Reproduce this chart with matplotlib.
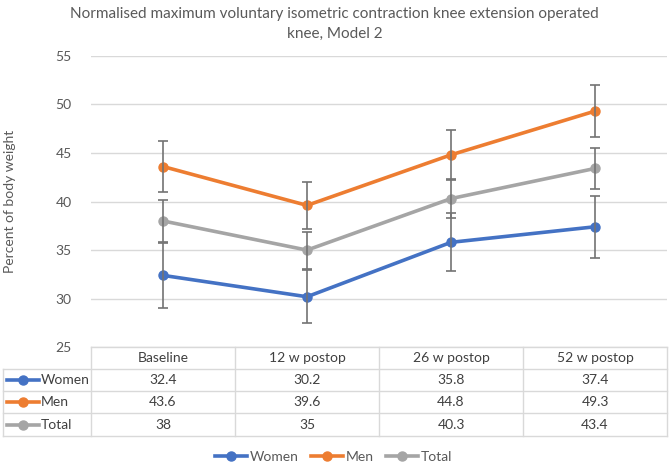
import matplotlib
matplotlib.use("Agg")
import matplotlib.pyplot as plt
from matplotlib.lines import Line2D
import matplotlib.transforms as mtransforms

plt.rcParams['font.family'] = ['Lato', 'DejaVu Sans']

categories = ["Baseline", "12 w postop", "26 w postop", "52 w postop"]
series_names = ["Women", "Men", "Total"]
women = [32.4, 30.2, 35.8, 37.4]
men = [43.6, 39.6, 44.8, 49.3]
total = [38, 35, 40.3, 43.4]
women_err = [3.35, 2.75, 3.0, 3.2]
men_err = [2.6, 2.4, 2.6, 2.65]
total_err = [2.2, 1.9, 2.0, 2.15]
table_labels = [["32.4", "30.2", "35.8", "37.4"],
                ["43.6", "39.6", "44.8", "49.3"],
                ["38", "35", "40.3", "43.4"]]
colors = ["#4472C4", "#ED7D31", "#A5A5A5"]
yticks = [25, 30, 35, 40, 45, 50, 55]

W, H = 669, 462
fig = plt.figure(figsize=(W / 100, H / 100), dpi=100)

def fy(py):
    return 1 - py / H

def fx(px):
    return px / W

ax_left, ax_right, ax_top, ax_bot = 91, 667, 55.7, 347.3
ax = fig.add_axes([fx(ax_left), fy(ax_bot), fx(ax_right) - fx(ax_left), fy(ax_top) - fy(ax_bot)])
ax.set_xlim(-0.5, 3.5)
ax.set_ylim(25, 55)
ax.set_yticks(yticks)
ax.set_xticks([])
for s in ax.spines.values():
    s.set_visible(False)
ax.yaxis.grid(True, color="#D9D9D9", linewidth=1.0)
ax.set_axisbelow(True)
ax.tick_params(axis='y', length=0, pad=14, labelsize=10, labelcolor="#595959")

x = list(range(len(categories)))
data = [women, men, total]
errs = [women_err, men_err, total_err]
for vals, err, c in zip(data, errs, colors):
    ax.plot(x, vals, color=c, linewidth=2.6, marker='o', markersize=6.5, zorder=3)
for vals, err, c in zip(data, errs, colors):
    ax.errorbar(x, vals, yerr=err, fmt='none', ecolor="#737373", elinewidth=1.2,
                capsize=3.5, capthick=1.2, zorder=4)

# Title
fig.text(0.5, fy(14), "Normalised maximum voluntary isometric contraction knee extension operated",
         ha='center', va='center', fontsize=11, color="#595959")
fig.text(0.5, fy(34), "knee, Model 2", ha='center', va='center', fontsize=11, color="#595959")

# Y label
fig.text(fx(10), fy(201), "Percent of body weight", rotation=90, ha='center', va='center',
         fontsize=10, color="#595959")

# Data table
lc = "#D9D9D9"
trans = mtransforms.blended_transform_factory(ax.transData, fig.transFigure)
row_lines = [347.3, 369, 391.3, 413.3, 436]
fig.add_artist(Line2D([fx(ax_left), fx(ax_right)], [fy(row_lines[0])] * 2, color=lc, lw=1.0))
for ry in row_lines[1:]:
    fig.add_artist(Line2D([fx(3), fx(ax_right)], [fy(ry)] * 2, color=lc, lw=1.0))
for i in range(len(categories) + 1):
    fig.add_artist(Line2D([i - 0.5, i - 0.5], [fy(row_lines[0]), fy(row_lines[-1])],
                          color=lc, lw=1.0, transform=trans))
fig.add_artist(Line2D([fx(3), fx(3)], [fy(row_lines[1]), fy(row_lines[-1])], color=lc, lw=1.0))

tc = "#404040"
for i, cat in enumerate(categories):
    fig.text(i, fy((row_lines[0] + row_lines[1]) / 2), cat, transform=trans,
             ha='center', va='center', fontsize=10, color=tc)
for r, name in enumerate(series_names):
    yc = fy((row_lines[r + 1] + row_lines[r + 2]) / 2)
    for i in range(len(categories)):
        fig.text(i, yc, table_labels[r][i], transform=trans, ha='center', va='center',
                 fontsize=10, color=tc)
    fig.add_artist(Line2D([fx(7), fx(39)], [yc, yc], color=colors[r], lw=2.6))
    fig.add_artist(Line2D([fx(23)], [yc], color=colors[r], marker='o', markersize=6.5, lw=0))
    fig.text(fx(41), yc, name, ha='left', va='center', fontsize=10, color=tc)

# Legend
handles = [Line2D([], [], color=c, lw=2.6, marker='o', markersize=6.5) for c in colors]
fig.legend(handles, series_names, loc='center', bbox_to_anchor=(0.499, fy(457)), ncol=3,
           frameon=False, fontsize=10, labelcolor="#595959", handlelength=2.3,
           handletextpad=0.2, columnspacing=0.9)

fig.savefig("out.png", dpi=100)
